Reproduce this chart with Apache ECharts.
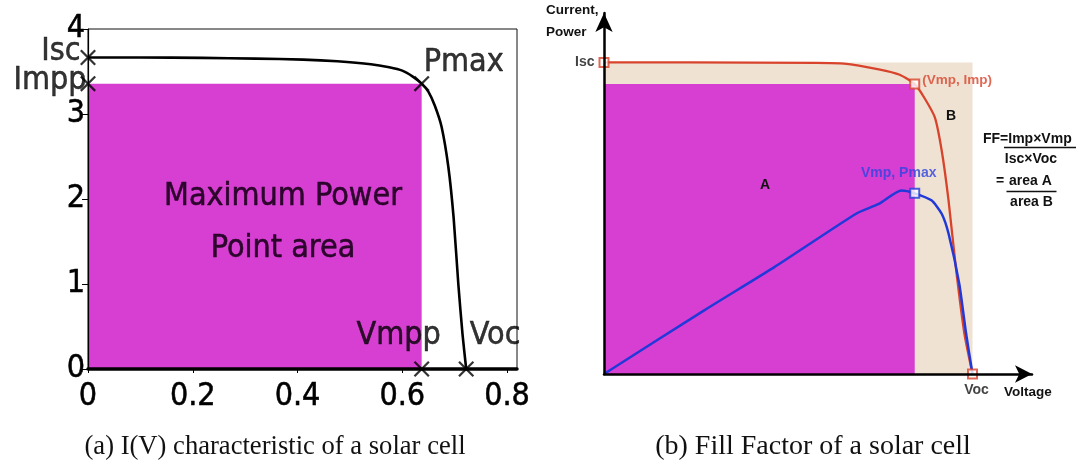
<!DOCTYPE html>
<html>
<head>
<meta charset="utf-8">
<script src="https://cdn.jsdelivr.net/npm/echarts@6/dist/echarts.min.js"></script>
<style>
html, body { margin: 0; padding: 0; background: #fff; }
#chart { width: 1076px; height: 470px; }
</style>
</head>
<body>
<div id="chart"></div>
<script>
// ---- (a) I(V) characteristic of a solar cell ----
const ivVoltage = [0, 0.1, 0.218, 0.32, 0.411, 0.476, 0.540, 0.575, 0.600, 0.620, 0.637, 0.650, 0.662, 0.675, 0.688, 0.698, 0.707, 0.715, 0.722];
const ivCurrent = [3.665, 3.665, 3.66, 3.652, 3.64, 3.62, 3.586, 3.55, 3.51, 3.44, 3.357, 3.26, 3.1, 2.85, 2.374, 1.78, 0.997, 0.407, 0];
const ivXTicks = [0, 0.2, 0.4, 0.6, 0.8];
const ivYTicks = [0, 1, 2, 3, 4];
const ivIsc = 3.665;
const ivImpp = 3.357;
const ivVmpp = 0.637;
const ivVoc = 0.722;
const ivPointNames = ['Isc', 'Impp', 'Pmax', 'Vmpp', 'Voc'];
const ivAreaText = 'Maximum Power\nPoint area';

// ---- (b) Fill Factor of a solar cell ----
const ffCurV = [0, 0.2, 0.495, 0.561, 0.642, 0.691, 0.726, 0.748, 0.773, 0.789, 0.805, 0.822, 0.842, 0.861];
const ffCurI = [0.863, 0.863, 0.862, 0.860, 0.844, 0.829, 0.803, 0.766, 0.711, 0.619, 0.481, 0.296, 0.112, 0];
const ffPowV = [0, 0.235, 0.398, 0.589, 0.642, 0.695, 0.724, 0.765, 0.789, 0.805, 0.830, 0.846, 0.861];
const ffPowP = [0, 0.177, 0.296, 0.444, 0.471, 0.508, 0.501, 0.481, 0.444, 0.389, 0.25, 0.112, 0];
const ffIsc = 0.863;
const ffImp = 0.803;
const ffVmp = 0.726;
const ffVoc = 0.861;
const ffPmax = 0.501;

const captions = ['(a) I(V) characteristic of a solar cell', '(b) Fill Factor of a solar cell'];

const LFONT = "'DejaVu Sans Condensed', 'DejaVu Sans', sans-serif";
const RFONT = "'Liberation Sans', Arial, sans-serif";
const SERIF = "'Liberation Serif', 'DejaVu Serif', serif";
const MAGENTA = '#d63fd2';
const BEIGE = '#efe2d3';
const RED = '#d8432c';
const BLUE = '#2139d8';

const zip = (a, b) => a.map((v, i) => [v, b[i]]);

// rectangle from (x0,y0) to (x1,y1) in data space
function rectRenderer(color) {
  return function (params, api) {
    const p0 = api.coord([api.value(0), api.value(1)]);
    const p1 = api.coord([api.value(2), api.value(3)]);
    return {
      type: 'rect',
      shape: { x: p0[0], y: p1[1], width: p1[0] - p0[0], height: p0[1] - p1[1] },
      style: { fill: color }
    };
  };
}

const crossSymbol = 'path://M0,1L1,0L10,9L9,10ZM9,0L10,1L1,10L0,9Z';

const ivPoints = [
  [0, ivIsc], [0, ivImpp], [ivVmpp, ivImpp], [ivVmpp, 0], [ivVoc, 0]
];
const ivLabelOffsets = [[-27, -6], [-38, -3], [42, -21], [-23, -33], [29, -33]];

const ivLabelStyle = { fontFamily: LFONT, fontSize: 32, color: '#000', textBorderColor: '#000', textBorderWidth: 0.5 };

const option = {
  animation: false,
  backgroundColor: '#fff',
  grid: [
    { left: 88, top: 29, width: 429, height: 340, show: true, borderColor: '#111', borderWidth: 1, backgroundColor: 'transparent' },
    { left: 604, top: 13, width: 428, height: 361, show: false }
  ],
  xAxis: [
    {
      gridIndex: 0, type: 'value', min: 0, max: 0.819, z: 10,
      axisLine: { lineStyle: { color: '#000', width: 3.5 } },
      axisTick: { show: true, inside: false, length: 4, customValues: ivXTicks, lineStyle: { color: '#000', width: 1 } },
      axisLabel: {
        customValues: ivXTicks, margin: 12, color: '#000', fontFamily: LFONT, fontSize: 32,
        textBorderColor: '#000', textBorderWidth: 0.5,
        formatter: v => (v === 0 ? '0' : v.toFixed(1))
      },
      splitLine: { show: false }
    },
    {
      gridIndex: 1, type: 'value', min: 0, max: 1, z: 10,
      axisLine: { lineStyle: { color: '#000', width: 2.5 }, symbol: ['none', 'arrow'], symbolSize: [13, 17], symbolOffset: [0, 0] },
      axisTick: { show: false }, axisLabel: { show: false }, splitLine: { show: false }
    }
  ],
  yAxis: [
    {
      gridIndex: 0, type: 'value', min: 0, max: 4, interval: 1, z: 10,
      axisLine: { show: true, lineStyle: { color: '#000', width: 1.2 } },
      axisTick: { show: true, inside: false, length: 6, customValues: ivYTicks, lineStyle: { color: '#000', width: 1 } },
      axisLabel: { customValues: ivYTicks, margin: 3, color: '#000', fontFamily: LFONT, fontSize: 32, textBorderColor: '#000', textBorderWidth: 0.5 },
      splitLine: { show: false }
    },
    {
      gridIndex: 1, type: 'value', min: 0, max: 1, z: 10,
      axisLine: { show: true, lineStyle: { color: '#000', width: 2.5 }, symbol: ['none', 'arrow'], symbolSize: [13, 19], symbolOffset: [0, 0] },
      axisTick: { show: false }, axisLabel: { show: false }, splitLine: { show: false }
    }
  ],
  series: [
    // (a) maximum power rectangle
    {
      type: 'custom', xAxisIndex: 0, yAxisIndex: 0, z: 1, silent: true,
      renderItem: rectRenderer(MAGENTA),
      data: [[0, 0, ivVmpp, ivImpp]]
    },
    // (a) I(V) curve
    {
      type: 'line', xAxisIndex: 0, yAxisIndex: 0, z: 3,
      data: zip(ivVoltage, ivCurrent),
      smooth: 0.2, showSymbol: false,
      lineStyle: { color: '#000', width: 2.6 }
    },
    // (a) marked points
    {
      type: 'scatter', xAxisIndex: 0, yAxisIndex: 0, z: 4,
      symbol: crossSymbol, symbolSize: 16,
      itemStyle: { color: '#000' },
      data: ivPoints.map((p, i) => ({
        value: p, name: ivPointNames[i],
        label: {
          show: true, position: 'inside', offset: ivLabelOffsets[i],
          formatter: '{b}', ...ivLabelStyle
        }
      }))
    },
    // (b) Isc x Voc rectangle
    {
      type: 'custom', xAxisIndex: 1, yAxisIndex: 1, z: 1, silent: true,
      renderItem: rectRenderer(BEIGE),
      data: [[0, 0, ffVoc, ffIsc]]
    },
    // (b) Imp x Vmp rectangle
    {
      type: 'custom', xAxisIndex: 1, yAxisIndex: 1, z: 1, silent: true,
      renderItem: rectRenderer(MAGENTA),
      data: [[0, 0, ffVmp, ffImp]]
    },
    // (b) current curve
    {
      type: 'line', xAxisIndex: 1, yAxisIndex: 1, z: 3,
      data: zip(ffCurV, ffCurI),
      smooth: 0.2, showSymbol: false,
      lineStyle: { color: RED, width: 2.3 }
    },
    // (b) power curve
    {
      type: 'line', xAxisIndex: 1, yAxisIndex: 1, z: 3,
      data: zip(ffPowV, ffPowP),
      smooth: 0.2, showSymbol: false,
      lineStyle: { color: BLUE, width: 2.5 }
    },
    // (b) current markers
    {
      type: 'scatter', xAxisIndex: 1, yAxisIndex: 1, z: 5,
      symbol: 'rect', symbolSize: 9,
      itemStyle: { color: '#fff', borderColor: RED, borderWidth: 2 },
      data: [
        { value: [0, ffIsc], label: { show: true, position: 'left', distance: 4, formatter: 'Isc', color: '#111', fontFamily: RFONT, fontWeight: 'bold', fontSize: 14 } },
        { value: [ffVmp, ffImp], label: { show: true, position: 'right', distance: 2, offset: [0, -4], formatter: '(Vmp, Imp)', color: RED, fontFamily: RFONT, fontWeight: 'bold', fontSize: 13.5 } },
        { value: [ffVoc, 0], label: { show: true, position: 'inside', offset: [4, 16], formatter: 'Voc', color: '#111', fontFamily: RFONT, fontWeight: 'bold', fontSize: 14 } }
      ]
    },
    // (b) power marker
    {
      type: 'scatter', xAxisIndex: 1, yAxisIndex: 1, z: 5,
      symbol: 'rect', symbolSize: 9,
      itemStyle: { color: '#fff', borderColor: BLUE, borderWidth: 2 },
      data: [
        { value: [ffVmp, ffPmax], label: { show: true, position: 'inside', offset: [-16, -20], formatter: 'Vmp, Pmax', color: '#2d44e0', fontFamily: RFONT, fontWeight: 'bold', fontSize: 14 } }
      ]
    }
  ],
  graphic: [
    // (a) area text
    { type: 'text', x: 283, y: 223, z: 20, style: { text: ivAreaText, font: '32px ' + LFONT, fill: 'rgba(30,0,30,0.92)', stroke: 'rgba(30,0,30,0.92)', lineWidth: 0.5, align: 'center', verticalAlign: 'middle', lineHeight: 52 } },
    // (b) axis names
    { type: 'text', x: 546, y: 10, z: 20, style: { text: 'Current,', font: 'bold 13.5px ' + RFONT, fill: '#111', verticalAlign: 'middle' } },
    { type: 'text', x: 546, y: 32, z: 20, style: { text: 'Power', font: 'bold 13.5px ' + RFONT, fill: '#111', verticalAlign: 'middle' } },
    { type: 'text', x: 1028, y: 392, z: 20, style: { text: 'Voltage', font: 'bold 13.5px ' + RFONT, fill: '#111', align: 'center', verticalAlign: 'middle' } },
    // (b) area letters
    { type: 'text', x: 765, y: 185, z: 20, style: { text: 'A', font: 'bold 14px ' + RFONT, fill: '#111', align: 'center', verticalAlign: 'middle' } },
    { type: 'text', x: 951, y: 116, z: 20, style: { text: 'B', font: 'bold 14px ' + RFONT, fill: '#111', align: 'center', verticalAlign: 'middle' } },
    // (b) fill factor formula
    { type: 'text', x: 983, y: 139, z: 20, style: { text: 'FF=Imp\u00d7Vmp', font: 'bold 14px ' + RFONT, fill: '#111', verticalAlign: 'middle' } },
    { type: 'line', z: 20, shape: { x1: 1004, y1: 147.5, x2: 1076, y2: 147.5 }, style: { stroke: '#111', lineWidth: 1.5 } },
    { type: 'text', x: 1031, y: 159.5, z: 20, style: { text: 'Isc\u00d7Voc', font: 'bold 14px ' + RFONT, fill: '#111', align: 'center', verticalAlign: 'middle' } },
    { type: 'text', x: 1000, y: 181.5, z: 20, style: { text: '=', font: 'bold 14px ' + RFONT, fill: '#111', align: 'center', verticalAlign: 'middle' } },
    { type: 'text', x: 1009, y: 181.5, z: 20, style: { text: 'area A', font: 'bold 14px ' + RFONT, fill: '#111', verticalAlign: 'middle' } },
    { type: 'line', z: 20, shape: { x1: 1006.5, y1: 191.5, x2: 1056.5, y2: 191.5 }, style: { stroke: '#111', lineWidth: 1.5 } },
    { type: 'text', x: 1031.5, y: 202.5, z: 20, style: { text: 'area B', font: 'bold 14px ' + RFONT, fill: '#111', align: 'center', verticalAlign: 'middle' } },
    // captions
    { type: 'text', x: 275, y: 447, z: 20, scaleX: 0.95, originX: 0, style: { text: captions[0], font: '28px ' + SERIF, fill: '#111', align: 'center', verticalAlign: 'middle' } },
    { type: 'text', x: 813, y: 447, z: 20, style: { text: captions[1], font: '28px ' + SERIF, fill: '#111', align: 'center', verticalAlign: 'middle' } }
  ]
};

const chart = echarts.init(document.getElementById('chart'), null, { renderer: 'canvas' });
chart.setOption(option);
</script>
</body>
</html>
